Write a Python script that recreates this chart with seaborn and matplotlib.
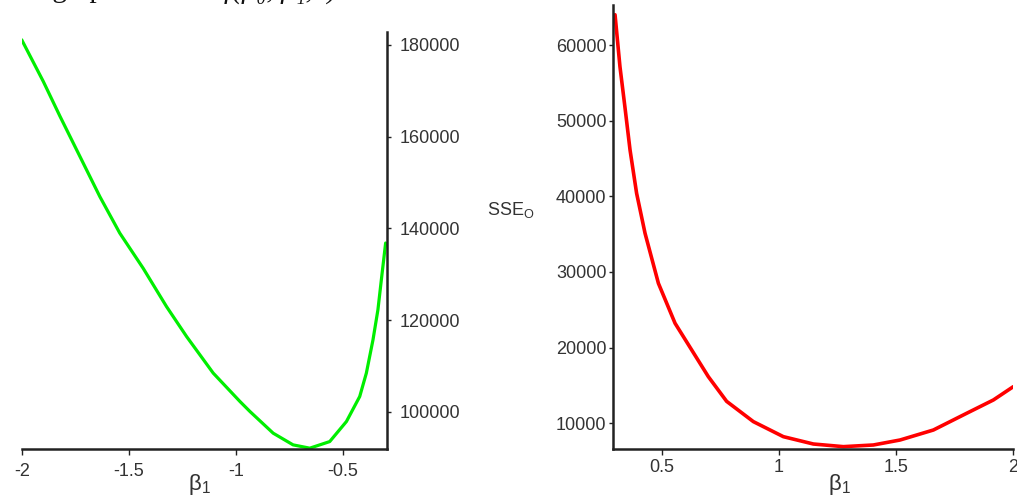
import numpy as np
import pandas as pd
import seaborn as sns
import matplotlib.pyplot as plt

# Values
beta_left = [-2.0, -1.899, -1.821, -1.728, -1.635, -1.542, -1.433, -1.324, -1.230,
             -1.106, -0.982, -0.935, -0.826, -0.733, -0.655, -0.562, -0.484, -0.422,
             -0.391, -0.360, -0.337, -0.321, -0.301]
sse_left = [181100, 172000, 164400, 155650, 146900, 138950, 131300, 122950, 116400,
            108450, 102300, 100100, 95350, 92800, 92080, 93520, 97890, 103340,
            108440, 115700, 122240, 128780, 136800]

beta_right = [0.301, 0.322, 0.343, 0.365, 0.393, 0.429, 0.486, 0.557, 0.628, 0.699,
              0.777, 0.891, 1.019, 1.147, 1.275, 1.403, 1.517, 1.659, 1.801, 1.915, 2.0]
sse_right = [64000, 57130, 51840, 46120, 40400, 35110, 28500, 23220, 19690, 16160,
             12900, 10220, 8230, 7260, 6910, 7130, 7790, 9110, 11320, 13080, 14840]

left_xticks = [-2, -1.5, -1, -0.5]
left_xlabels = ['-2', '-1.5', '-1', '-0.5']
left_yticks = [100000, 120000, 140000, 160000, 180000]
right_xticks = [0.5, 1, 1.5, 2]
right_xlabels = ['0.5', '1', '1.5', '2']
right_yticks = [10000, 20000, 30000, 40000, 50000, 60000]

sns.set_style('white')
plt.rcParams['font.family'] = ['Liberation Sans', 'DejaVu Sans']
plt.rcParams['mathtext.fontset'] = 'custom'
plt.rcParams['mathtext.rm'] = 'Liberation Sans'
plt.rcParams['mathtext.it'] = 'Liberation Sans:italic'

txt = '#333333'
W, H = 1017, 500
fig = plt.figure(figsize=(W / 100, H / 100), dpi=100)


def box(x0, x1, ytop, ybot):
    return [x0 / W, 1 - ybot / H, (x1 - x0) / W, (ybot - ytop) / H]


ax1 = fig.add_axes(box(21.7, 386.7, 32, 449))
ax2 = fig.add_axes(box(612.7, 1013.3, 5, 449.3))

df1 = pd.DataFrame({'beta': beta_left, 'sse': sse_left})
df2 = pd.DataFrame({'beta': beta_right, 'sse': sse_right})
sns.lineplot(data=df1, x='beta', y='sse', ax=ax1, color='#00ee00', lw=2.3,
             estimator=None, solid_joinstyle='round')
sns.lineplot(data=df2, x='beta', y='sse', ax=ax2, color='#ff0000', lw=2.6,
             estimator=None, solid_joinstyle='round')

# left plot: axis on the right
ax1.set_xlim(-2, -0.296)
ax1.set_ylim(91900, 182800)
for s in ['top', 'left']:
    ax1.spines[s].set_visible(False)
for s in ['bottom', 'right']:
    ax1.spines[s].set_color('#222222')
    ax1.spines[s].set_linewidth(1.8)
ax1.yaxis.tick_right()
ax1.set_xticks(left_xticks, left_xlabels)
ax1.set_yticks(left_yticks, [str(v) for v in left_yticks])
ax1.tick_params(axis='x', direction='out', length=4, width=1, color='#222222',
                pad=6, labelsize=13, labelcolor=txt, bottom=True)
ax1.tick_params(axis='y', direction='out', length=3, width=1, color='#222222',
                pad=6, labelsize=13, labelcolor=txt, right=True, left=False)
ax1.set_xlabel('β$_\\mathrm{1}$', fontsize=16, color=txt)
ax1.xaxis.set_label_coords(0.488, -0.055)
ax1.set_ylabel('')

# right plot
ax2.set_xlim(0.291, 2.0)
ax2.set_ylim(6560, 65290)
for s in ['top', 'right']:
    ax2.spines[s].set_visible(False)
for s in ['bottom', 'left']:
    ax2.spines[s].set_color('#222222')
    ax2.spines[s].set_linewidth(1.8)
ax2.set_xticks(right_xticks, right_xlabels)
ax2.set_yticks(right_yticks, [str(v) for v in right_yticks])
ax2.tick_params(axis='x', direction='out', length=4, width=1, color='#222222',
                pad=3, labelsize=13, labelcolor=txt, bottom=True)
ax2.tick_params(axis='y', direction='out', length=3, width=1, color='#222222',
                pad=1.5, labelsize=13, labelcolor=txt, left=True)
ax2.set_xlabel('β$_\\mathrm{1}$', fontsize=16, color=txt)
ax2.xaxis.set_label_coords(0.567, -0.05)
ax2.set_ylabel('SSE$_\\mathrm{O}$', fontsize=13, color=txt, rotation=0,
               ha='center', va='center')
ax2.yaxis.set_label_coords(-0.254, 0.539)

# clipped line of document text at the top edge (only descenders show)
serif = ['Liberation Serif', 'DejaVu Serif']
fig.text(0.0, 1 + 3 / H, 'The graph of', fontsize=21, family=serif,
         color='#111111', va='baseline')
fig.text(224 / W, 1 + 2 / H, 'f(β₀, β₁, ·)', fontsize=21, family=serif,
         style='italic', color='#111111', va='baseline')

fig.savefig('out.png', dpi=100)
